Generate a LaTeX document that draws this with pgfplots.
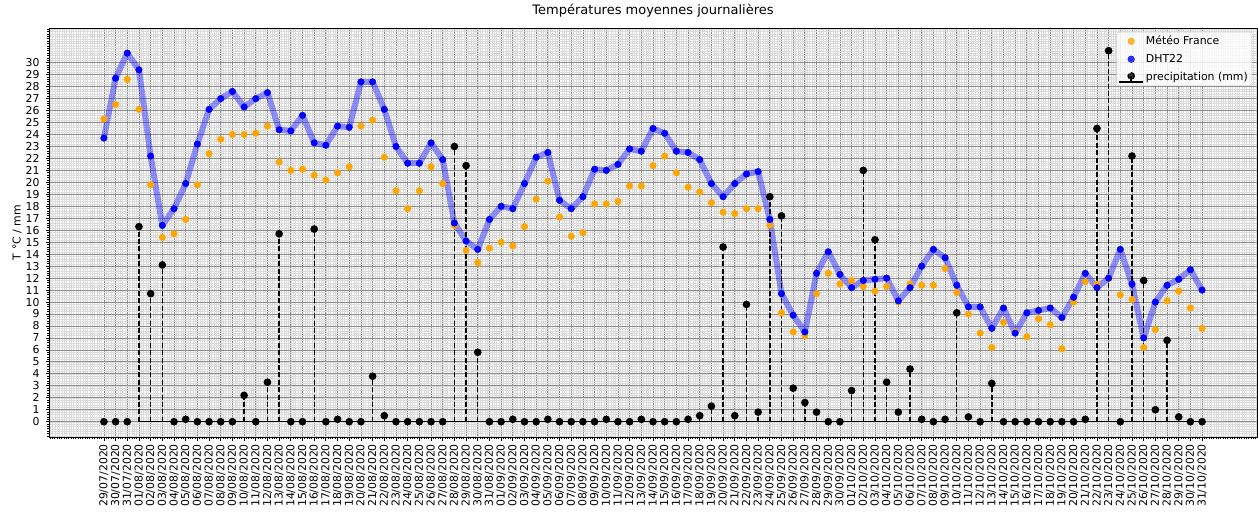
\documentclass[border=0pt]{standalone}
\usepackage{fontspec}
\setmainfont{DejaVu Sans}
\usepackage{pgfplots}
\pgfplotsset{compat=1.18}
\usepackage{pgfplotstable}
\definecolor{mforange}{HTML}{FFA500}
\definecolor{dhtblue}{HTML}{0000FF}

\pgfplotstableread{
x mf dht pr
0 25.3 23.7 0
1 26.5 28.7 0
2 28.6 30.8 0
3 26.1 29.4 16.3
4 19.8 22.2 10.7
5 15.4 16.4 13.1
6 15.7 17.8 0
7 16.9 19.9 0.2
8 19.8 23.2 0
9 22.4 26.1 0
10 23.6 27.0 0
11 24.0 27.6 0
12 24.0 26.3 2.2
13 24.1 27.0 0
14 24.7 27.5 3.3
15 21.7 24.4 15.7
16 21.0 24.3 0
17 21.1 25.6 0
18 20.6 23.3 16.1
19 20.2 23.1 0
20 20.8 24.7 0.2
21 21.3 24.6 0
22 24.7 28.4 0
23 25.2 28.4 3.8
24 22.1 26.1 0.5
25 19.3 23.0 0
26 17.8 21.6 0
27 19.3 21.6 0
28 21.3 23.3 0
29 19.9 21.9 0
30 16.4 16.6 23.0
31 14.3 15.1 21.4
32 13.3 14.4 5.8
33 14.5 16.9 0
34 15.0 18.0 0
35 14.7 17.8 0.2
36 16.3 19.9 0
37 18.6 22.1 0
38 20.1 22.5 0.2
39 17.1 18.5 0
40 15.5 17.8 0
41 15.8 18.8 0
42 18.2 21.1 0
43 18.2 21.0 0.2
44 18.4 21.5 0
45 19.7 22.8 0
46 19.7 22.6 0.2
47 21.4 24.5 0
48 22.2 24.1 0
49 20.8 22.6 0
50 19.6 22.5 0.2
51 19.2 21.9 0.5
52 18.3 19.9 1.3
53 17.5 18.8 14.6
54 17.4 19.9 0.5
55 17.8 20.7 9.8
56 17.8 20.9 0.8
57 16.4 16.9 18.8
58 9.1 10.7 17.2
59 7.5 8.9 2.8
60 7.2 7.5 1.6
61 10.7 12.4 0.8
62 12.4 14.2 0
63 11.5 12.3 0
64 11.8 11.2 2.6
65 11.3 11.8 21.0
66 10.9 11.9 15.2
67 11.3 12.0 3.3
68 10.0 10.1 0.8
69 11.5 11.2 4.4
70 11.4 13.0 0.2
71 11.4 14.4 0
72 12.8 13.7 0.2
73 10.8 11.4 9.1
74 9.0 9.6 0.4
75 7.4 9.6 0
76 6.2 7.8 3.2
77 8.3 9.5 0
78 7.5 7.4 0
79 7.1 9.1 0
80 8.6 9.3 0
81 8.1 9.5 0
82 6.1 8.7 0
83 10.0 10.4 0
84 11.7 12.4 0.2
85 11.5 11.2 24.5
86 12.0 12.0 31.0
87 10.6 14.4 0
88 10.2 11.5 22.2
89 6.2 7.0 11.8
90 7.7 10.0 1.0
91 10.1 11.4 6.8
92 10.9 11.9 0.4
93 9.5 12.7 0
94 7.8 11.0 0
}\data

\begin{document}
\begin{tikzpicture}
\begin{axis}[
  name=ax,
  scale only axis,
  width=1208pt, height=409pt,
  xmin=-4.7, xmax=98.7, ymin=-1.28, ymax=32.9,
  xtick={0,...,94},
  xticklabels={29/07/2020,30/07/2020,31/07/2020,
    01/08/2020,02/08/2020,03/08/2020,04/08/2020,05/08/2020,06/08/2020,07/08/2020,08/08/2020,09/08/2020,10/08/2020,
    11/08/2020,12/08/2020,13/08/2020,14/08/2020,15/08/2020,16/08/2020,17/08/2020,18/08/2020,19/08/2020,20/08/2020,
    21/08/2020,22/08/2020,23/08/2020,24/08/2020,25/08/2020,26/08/2020,27/08/2020,28/08/2020,29/08/2020,30/08/2020,31/08/2020,
    01/09/2020,02/09/2020,03/09/2020,04/09/2020,05/09/2020,06/09/2020,07/09/2020,08/09/2020,09/09/2020,10/09/2020,
    11/09/2020,12/09/2020,13/09/2020,14/09/2020,15/09/2020,16/09/2020,17/09/2020,18/09/2020,19/09/2020,20/09/2020,
    21/09/2020,22/09/2020,23/09/2020,24/09/2020,25/09/2020,26/09/2020,27/09/2020,28/09/2020,29/09/2020,30/09/2020,
    01/10/2020,02/10/2020,03/10/2020,04/10/2020,05/10/2020,06/10/2020,07/10/2020,08/10/2020,09/10/2020,10/10/2020,
    11/10/2020,12/10/2020,13/10/2020,14/10/2020,15/10/2020,16/10/2020,17/10/2020,18/10/2020,19/10/2020,20/10/2020,
    21/10/2020,22/10/2020,23/10/2020,24/10/2020,25/10/2020,26/10/2020,27/10/2020,28/10/2020,29/10/2020,30/10/2020,31/10/2020},
  ytick={0,...,30},
  minor xtick={-4.6,-4.4,...,98.61},
  minor ytick={-1.2,-1.0,...,32.81},
  grid=both,
  major grid style={line width=0.8pt, color=black!45},
  minor grid style={line width=0.4pt, color=black!14},
  axis line style={line width=0.8pt, black},
  tick align=outside,
  tick pos=left,
  major tick length=3.5pt,
  minor tick length=2pt,
  every tick/.style={black, line width=0.8pt},
  /pgf/number format/assume math mode=true,
  tick label style={font=\fontsize{10.9}{12}\selectfont},
  xticklabel style={rotate=90, anchor=east},
  yticklabel style={anchor=east, xshift=-2.5pt},
  title={Températures moyennes journalières},
  title style={font=\fontsize{13}{15}\selectfont, at={(0.5,1)}, anchor=base, yshift=7.3pt},
  ylabel={T °C / mm},
  ylabel style={font=\fontsize{10.9}{12}\selectfont, at={(rel axis cs:-0.02343,0.5)}, anchor=base},
  legend style={at={(1,1)}, anchor=north east, xshift=-5pt, yshift=-4pt,
    draw=black!20, rounded corners=2pt, fill=white, fill opacity=0.8, text opacity=1, draw opacity=1,
    font=\fontsize{10.9}{12}\selectfont, inner sep=2pt, row sep=4pt},
  legend cell align=left,
]
\addplot[dhtblue, opacity=0.4, line width=6pt, line join=round, line cap=round, forget plot] table[x=x,y=dht]{\data};
\addplot[only marks, mark=*, mark size=3.3pt, mark options={fill=mforange, draw=mforange},
  legend image code/.code={\fill[mforange] (10pt,0pt) circle (3.3pt); \path (0pt,0pt) (22pt,0pt);}] table[x=x,y=mf]{\data};
\addlegendentry{Météo France}
\addplot[only marks, mark=*, mark size=3.3pt, mark options={fill=dhtblue, draw=dhtblue},
  legend image code/.code={\fill[dhtblue] (10pt,0pt) circle (3.3pt); \path (0pt,0pt) (22pt,0pt);}] table[x=x,y=dht]{\data};
\addlegendentry{DHT22}
\addplot[forget plot, black, line width=1.5pt] coordinates {(3,0) (94,0)};
\addplot[black, ycomb, line width=1.4pt, dash pattern=on 5pt off 2.4pt, mark=*, mark size=3.1pt, mark options={solid, fill=black},
  legend image code/.code={\draw[black, solid, line width=1.5pt] (-2pt,-5pt) -- (22pt,-5pt); \draw[black, solid, line width=1.4pt] (10pt,-5pt) -- (10pt,1pt); \fill[black] (10pt,1pt) circle (3.1pt);}] table[x=x,y=pr]{\data};
\addlegendentry{precipitation (mm)}
\end{axis}
\pgfresetboundingbox
\path ([xshift=-49pt,yshift=-74pt]ax.south west) rectangle ([xshift=1pt,yshift=28pt]ax.north east);
\end{tikzpicture}
\end{document}
